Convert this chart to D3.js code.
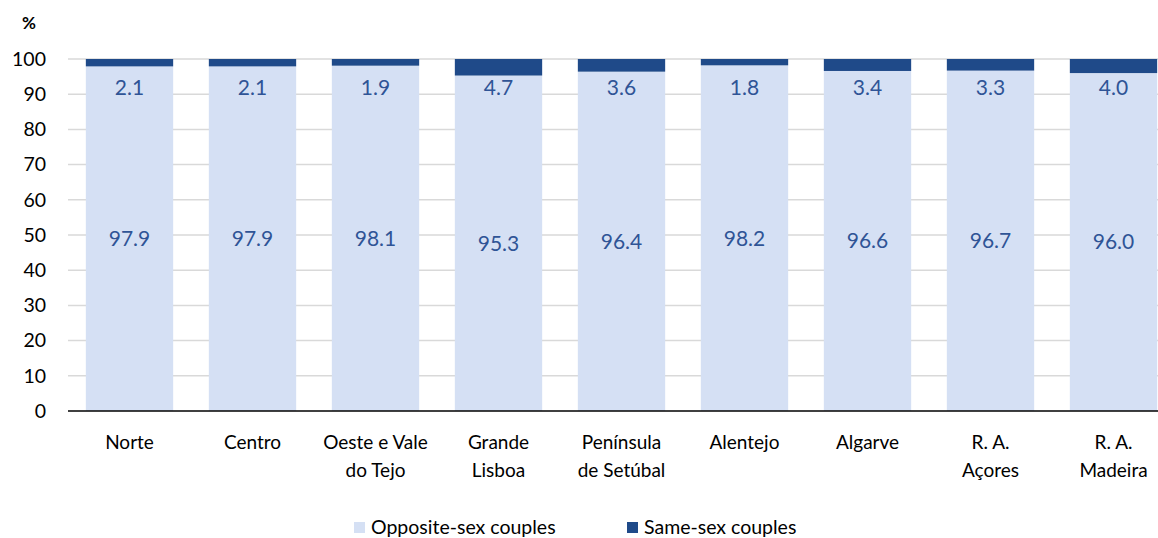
<!DOCTYPE html>
<html>
<head>
<meta charset="utf-8">
<script src="https://cdn.jsdelivr.net/npm/d3@7"></script>
<style>
body { margin: 0; background: #fff; }
text { font-family: Lato, "Open Sans", sans-serif; }
</style>
</head>
<body>
<div id="container"></div>
<script>
const width = 1158;
const height = 538;

// data
const regions = [["Norte"], ["Centro"], ["Oeste e Vale", "do Tejo"], ["Grande", "Lisboa"],
	["Península", "de Setúbal"], ["Alentejo"], ["Algarve"], ["R. A.", "Açores"], ["R. A.", "Madeira"]];
const opposite = [97.9, 97.9, 98.1, 95.3, 96.4, 98.2, 96.6, 96.7, 96.0];
const same = [2.1, 2.1, 1.9, 4.7, 3.6, 1.8, 3.4, 3.3, 4.0];
const yTicks = [0, 10, 20, 30, 40, 50, 60, 70, 80, 90, 100];
const seriesNames = ["Opposite-sex couples", "Same-sex couples"];

const colLight = "#d5e0f4";
const colDark = "#1f4a89";
const colLabel = "#2f5496";

const svg = d3.select("#container")
	.append("svg")
	.attr("width", width)
	.attr("height", height);

const x = d3.scaleBand()
	.domain(d3.range(regions.length))
	.range([68, 1175])
	.paddingInner(0.29)
	.paddingOuter(0.145);

const y = d3.scaleLinear()
	.domain([0, 100])
	.range([411, 59]);

// gridlines
svg.append("g")
	.selectAll("line")
	.data(yTicks.filter(d => d > 0))
	.enter()
	.append("line")
	.attr("x1", 68).attr("x2", width)
	.attr("y1", d => y(d)).attr("y2", d => y(d))
	.attr("stroke", "#d9d9d9")
	.attr("stroke-width", 1.5);

// y tick labels
svg.append("g")
	.selectAll("text")
	.data(yTicks)
	.enter()
	.append("text")
	.attr("x", 46)
	.attr("y", d => y(d))
	.attr("dy", "0.35em")
	.attr("text-anchor", "end")
	.attr("font-size", 19.5)
	.attr("fill", "#000")
	.text(d => d);

svg.append("text")
	.attr("x", 29).attr("y", 29)
	.attr("text-anchor", "middle")
	.attr("font-size", 17)
	.attr("font-weight", "bold")
	.text("%");

// bars
const bars = svg.append("g")
	.selectAll("g")
	.data(regions)
	.enter()
	.append("g");

bars.append("rect")
	.attr("x", (d, i) => x(i))
	.attr("width", x.bandwidth())
	.attr("y", (d, i) => y(opposite[i]))
	.attr("height", (d, i) => y(0) - y(opposite[i]))
	.attr("fill", colLight);

bars.append("rect")
	.attr("x", (d, i) => x(i))
	.attr("width", x.bandwidth())
	.attr("y", (d, i) => y(opposite[i] + same[i]))
	.attr("height", (d, i) => y(opposite[i]) - y(opposite[i] + same[i]))
	.attr("fill", colDark);

// value labels
bars.append("text")
	.attr("x", (d, i) => x(i) + x.bandwidth() / 2)
	.attr("y", (d, i) => y(opposite[i] / 2))
	.attr("dy", "0.35em")
	.attr("text-anchor", "middle")
	.attr("font-size", 21)
	.attr("fill", colLabel)
	.text((d, i) => opposite[i].toFixed(1));

bars.append("text")
	.attr("x", (d, i) => x(i) + x.bandwidth() / 2)
	.attr("y", y(92))
	.attr("dy", "0.35em")
	.attr("text-anchor", "middle")
	.attr("font-size", 21)
	.attr("fill", colLabel)
	.text((d, i) => same[i].toFixed(1));

// x axis line
svg.append("line")
	.attr("x1", 68).attr("x2", width)
	.attr("y1", y(0)).attr("y2", y(0))
	.attr("stroke", "#000")
	.attr("stroke-width", 1.5);

// category labels
const cat = svg.append("g")
	.selectAll("text")
	.data(regions)
	.enter()
	.append("text")
	.attr("text-anchor", "middle")
	.attr("font-size", 19)
	.attr("fill", "#000");

cat.selectAll("tspan")
	.data((d, i) => d.map(s => ({ s: s, i: i })))
	.enter()
	.append("tspan")
	.attr("x", d => x(d.i) + x.bandwidth() / 2)
	.attr("y", (d, j) => 449 + j * 28)
	.text(d => d.s);

// legend
const legendX = [354, 627];
const legend = svg.append("g")
	.selectAll("g")
	.data(seriesNames)
	.enter()
	.append("g")
	.attr("transform", (d, i) => "translate(" + legendX[i] + ",527)");

legend.append("rect")
	.attr("x", 0).attr("y", -5)
	.attr("width", 11).attr("height", 11)
	.attr("fill", (d, i) => i === 0 ? colLight : colDark);

legend.append("text")
	.attr("x", 17)
	.attr("y", 0)
	.attr("dy", "0.35em")
	.attr("font-size", 19.5)
	.attr("fill", "#000")
	.text(d => d);
</script>
</body>
</html>
